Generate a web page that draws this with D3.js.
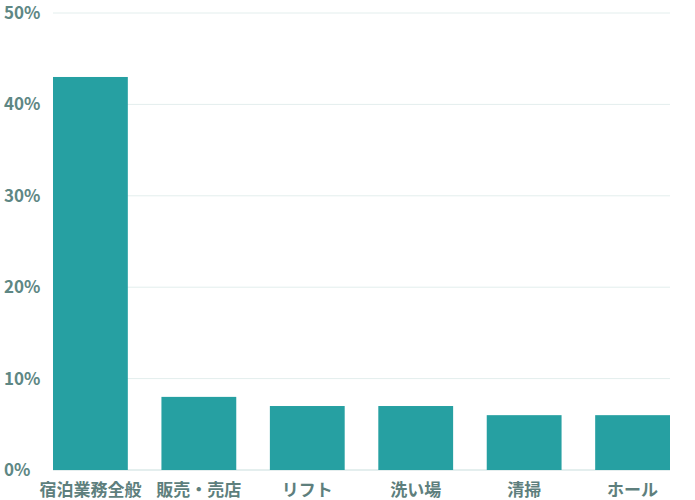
<!DOCTYPE html>
<html><head><meta charset="utf-8">
<script src="https://cdn.jsdelivr.net/npm/d3@7"></script>
<style>body{margin:0;background:#fff}</style>
</head><body>
<svg id="c" width="695" height="500"></svg>
<script>
const categories = ["宿泊業務全般","販売・売店","リフト","洗い場","清掃","ホール"];
const values = [43, 8, 7, 7, 6, 6];
const yTicks = [0, 10, 20, 30, 40, 50];

const svg = d3.select("#c");
const font = "'Noto Sans CJK JP', 'Noto Sans', sans-serif";
const x = d3.scaleBand().domain(categories).range([53, 670]).paddingInner(0.31).paddingOuter(0);
const y = d3.scaleLinear().domain([0, 50]).range([470, 13]);

// gridlines
svg.append("g").selectAll("line").data(yTicks).join("line")
  .attr("x1", 53).attr("x2", 670)
  .attr("y1", d => y(d)).attr("y2", d => y(d))
  .attr("stroke", d => d === 0 ? "#c9dedd" : "#e3eeed").attr("stroke-width", 1);

// y labels
svg.append("g").selectAll("text").data(yTicks).join("text")
  .attr("x", 4).attr("y", d => y(d) + 6)
  .attr("font-family", font).attr("font-weight", 700).attr("font-size", 17)
  .attr("fill", "#5e8784").text(d => d + "%");

// bars
svg.append("g").selectAll("rect").data(values).join("rect")
  .attr("x", (d, i) => x(categories[i])).attr("width", x.bandwidth())
  .attr("y", d => y(d)).attr("height", d => y(0) - y(d))
  .attr("fill", "#26a0a2");

// x labels
svg.append("g").selectAll("text").data(categories).join("text")
  .attr("x", d => x(d) + x.bandwidth() / 2).attr("y", 496)
  .attr("text-anchor", "middle")
  .attr("font-family", font).attr("font-weight", 700).attr("font-size", 17)
  .attr("fill", "#5e7f7d").text(d => d);
</script>
</body></html>
